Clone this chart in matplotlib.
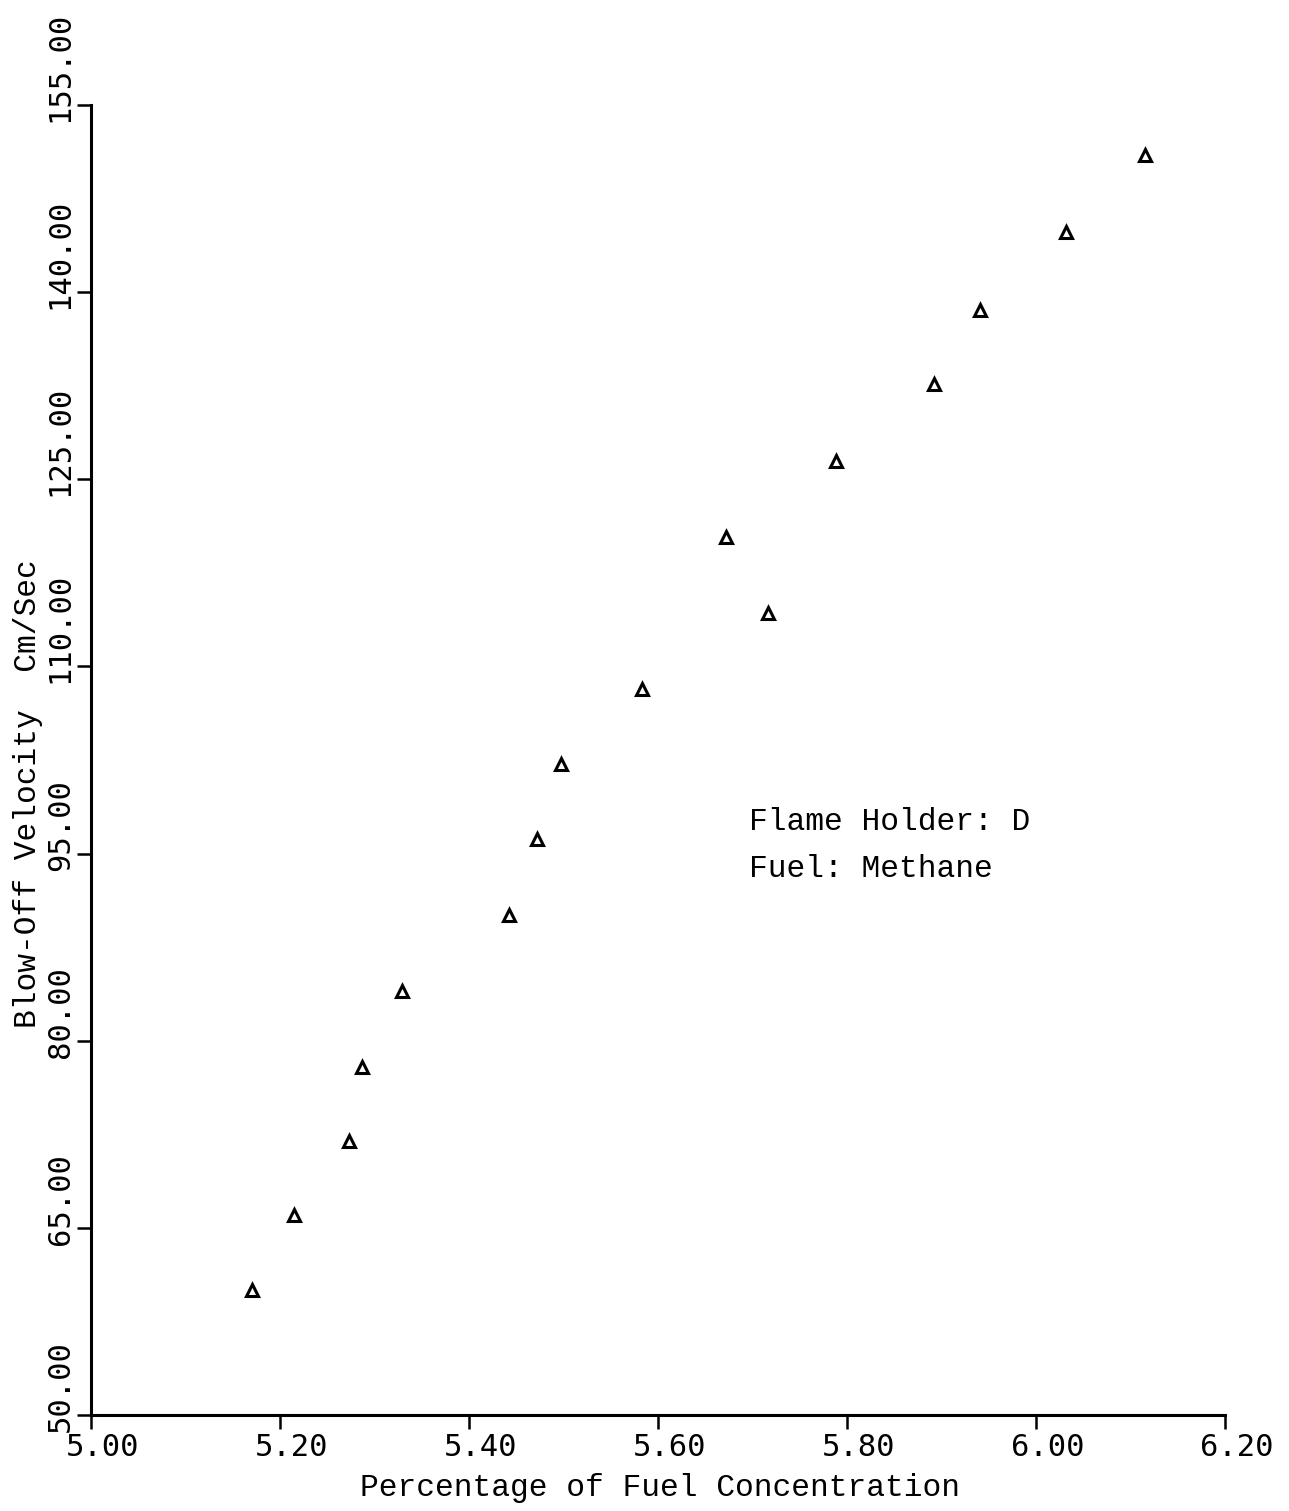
import matplotlib.pyplot as plt
import matplotlib.transforms as mtransforms

# percentage of fuel concentration vs blow-off velocity (cm/sec)
fuel_pct = [5.171, 5.215, 5.273, 5.287, 5.329, 5.442, 5.472, 5.497,
            5.583, 5.672, 5.716, 5.788, 5.892, 5.941, 6.032, 6.115]
velocity = [60.0, 66.0, 72.0, 77.9, 84.0, 90.1, 96.2, 102.2,
            108.2, 120.4, 114.3, 126.5, 132.6, 138.6, 144.8, 151.0]

x_ticks = [5.00, 5.20, 5.40, 5.60, 5.80, 6.00, 6.20]
y_ticks = [50, 65, 80, 95, 110, 125, 140, 155]
notes = ["Flame Holder: D", "Fuel: Methane"]

mono = ["Liberation Mono", "DejaVu Sans Mono"]
tick_font = ["DejaVu Sans Mono"]

fig = plt.figure(figsize=(12.89, 15.11), dpi=100)
ax = fig.add_axes([0.0705, 0.0635, 0.8798, 0.867])

ax.plot(fuel_pct, velocity, linestyle="none", marker="^", markersize=9,
        markerfacecolor="none", markeredgecolor="black", markeredgewidth=2.2)

ax.set_xlim(5.0, 6.2)
ax.set_ylim(50, 155)
for s in ["top", "right"]:
    ax.spines[s].set_visible(False)
for s in ["left", "bottom"]:
    ax.spines[s].set_linewidth(2.2)

ax.set_xticks(x_ticks)
ax.set_xticklabels(["%.2f" % v for v in x_ticks], family=tick_font, fontsize=22)
ax.set_yticks(y_ticks)
ax.set_yticklabels(["%.2f" % v for v in y_ticks], family=tick_font, fontsize=22,
                   rotation=90)
ax.tick_params(axis="both", direction="out", length=10, width=1.8, pad=3)

dx = mtransforms.ScaledTranslation(0.12, 0, fig.dpi_scale_trans)
for lab in ax.get_xticklabels():
    lab.set_transform(lab.get_transform() + dx)
dy = mtransforms.ScaledTranslation(0.02, -0.17, fig.dpi_scale_trans)
for lab in ax.get_yticklabels():
    lab.set_va("bottom")
    lab.set_transform(lab.get_transform() + dy)

fig.text(0.512, 0.0152, "Percentage of Fuel Concentration", family=mono,
         fontsize=22.5, ha="center", va="center")
fig.text(0.022, 0.475, "Blow-Off Velocity  Cm/Sec", family=mono,
         fontsize=22.5, rotation=90, ha="center", va="center")

ax.text(5.696, 97.5, notes[0], family=mono, fontsize=22.5, ha="left", va="center")
ax.text(5.696, 93.8, notes[1], family=mono, fontsize=22.5, ha="left", va="center")

fig.savefig("out.png", dpi=100, facecolor="white")
